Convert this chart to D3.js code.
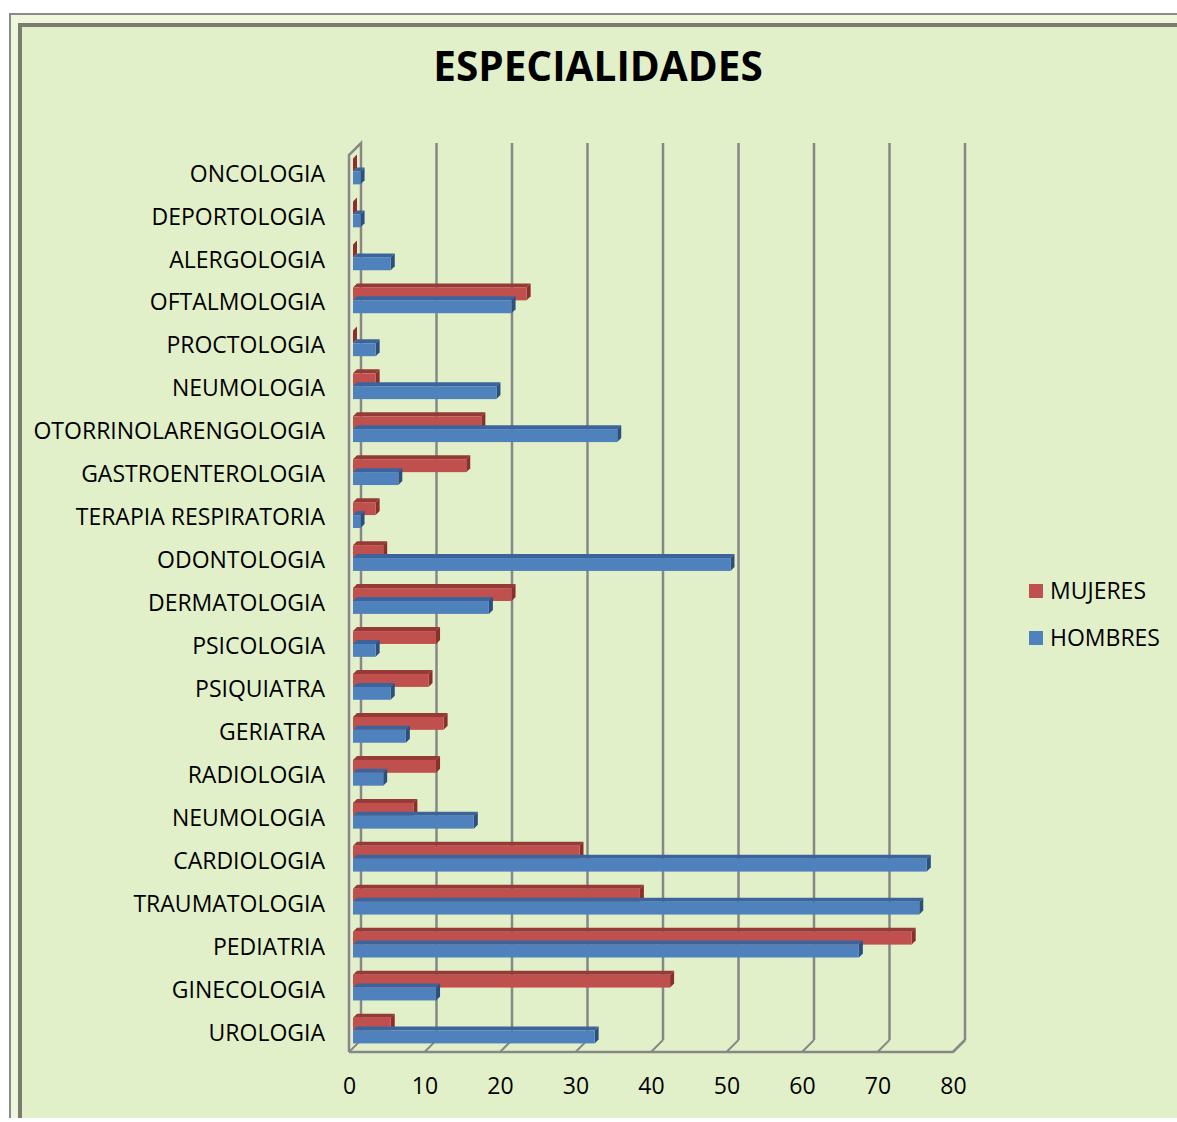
<!DOCTYPE html>
<html>
<head>
<meta charset="utf-8">
<script src="https://d3js.org/d3.v7.min.js"></script>
<style>
  body { margin: 0; background: #fff; }
  text { font-family: "Open Sans", "Noto Sans", sans-serif; fill: #000; }
</style>
</head>
<body>
<script>
// categories, top to bottom as drawn
var categories = ["ONCOLOGIA", "DEPORTOLOGIA", "ALERGOLOGIA", "OFTALMOLOGIA", "PROCTOLOGIA",
  "NEUMOLOGIA", "OTORRINOLARENGOLOGIA", "GASTROENTEROLOGIA", "TERAPIA RESPIRATORIA",
  "ODONTOLOGIA", "DERMATOLOGIA", "PSICOLOGIA", "PSIQUIATRA", "GERIATRA", "RADIOLOGIA",
  "NEUMOLOGIA", "CARDIOLOGIA", "TRAUMATOLOGIA", "PEDIATRIA", "GINECOLOGIA", "UROLOGIA"];

var mujeres = [0, 0, 0, 23, 0, 3, 17, 15, 3, 4, 21, 11, 10, 12, 11, 8, 30, 38, 74, 42, 5];
var hombres = [1, 1, 5, 21, 3, 19, 35, 6, 1, 50, 18, 3, 5, 7, 4, 16, 76, 75, 67, 11, 32];

var xTicks = [0, 10, 20, 30, 40, 50, 60, 70, 80];
var seriesNames = ["MUJERES", "HOMBRES"];

var W = 1177, H = 1122;

var svg = d3.select("body").append("svg")
    .attr("width", W)
    .attr("height", H);

// frame (open at the right and bottom, as cropped)
svg.append("rect").attr("x", 10).attr("y", 14).attr("width", W).attr("height", 1104)
    .attr("fill", "#eef6dc");
svg.append("path").attr("d", "M10,1118V14H" + W)
    .attr("fill", "none").attr("stroke", "#8a8a8a").attr("stroke-width", 2);
svg.append("rect").attr("x", 19).attr("y", 24).attr("width", W).attr("height", 1094)
    .attr("fill", "#e2f0ca");
svg.append("path").attr("d", "M20,1118V25H" + W)
    .attr("fill", "none").attr("stroke", "#7a7d6e").attr("stroke-width", 4);

// title
svg.append("text")
    .attr("x", 598).attr("y", 81)
    .attr("text-anchor", "middle")
    .style("font-size", "40.5px").style("font-weight", "bold")
    .text("ESPECIALIDADES");

// scales: bar plane, front floor, back wall
var x = d3.scaleLinear().domain([0, 80]).range([353, 957]);
var depth = 12;           // offset front floor -> back wall
var floorY = 1052, backTop = 143;
var xFront = function(v) { return x(v) - 4; };
var xBack = function(v) { return x(v) - 4 + depth; };

var y = d3.scaleBand()
    .domain(d3.range(categories.length))
    .range([150, 1052])
    .paddingInner(0.4)
    .paddingOuter(0.2);

var grid = svg.append("g");

// back wall gridlines with floor diagonals
xTicks.forEach(function(t) {
  if (t > 0) {
    grid.append("line")
        .attr("x1", xBack(t)).attr("x2", xBack(t))
        .attr("y1", backTop).attr("y2", floorY - depth)
        .attr("stroke", "#878787").attr("stroke-width", 2.5);
  }
  grid.append("line")
      .attr("x1", xBack(t)).attr("x2", xFront(t))
      .attr("y1", floorY - depth).attr("y2", floorY)
      .attr("stroke", "#878787").attr("stroke-width", 2);
});

// left side wall
grid.append("path")
    .attr("d", "M" + xFront(0) + "," + floorY +
               "L" + xFront(0) + "," + (backTop + depth) +
               "L" + xBack(0) + "," + backTop +
               "L" + xBack(0) + "," + (floorY - depth))
    .attr("fill", "none").attr("stroke", "#878787").attr("stroke-width", 2.5);

// floor front edge and right edge
grid.append("path")
    .attr("d", "M" + xFront(0) + "," + floorY + "L" + xFront(80) + "," + floorY +
               "L" + xBack(80) + "," + (floorY - depth))
    .attr("fill", "none").attr("stroke", "#878787").attr("stroke-width", 2.5);

// bars (3D look: front, top and end faces)
var barH = y.bandwidth() / 2;
var d3x = 4, d3y = 4;

var series = [
  {name: "MUJERES", values: mujeres, front: "#c0504d", top: "#963a37", side: "#8a2f2c", off: 0},
  {name: "HOMBRES", values: hombres, front: "#4f81bd", top: "#3b649c", side: "#2c4f7e", off: 1}
];

var bars = svg.append("g");
series.forEach(function(s) {
  var g = bars.append("g");
  var data = s.values.map(function(v, i) { return {v: v, i: i}; });

  // top face
  g.selectAll(".top").data(data).enter().append("path")
      .attr("fill", s.top)
      .attr("d", function(d) {
        var y0 = y(d.i) + s.off * barH, x0 = x(0), x1 = x(d.v);
        return "M" + x0 + "," + y0 + "L" + (x0 + d3x) + "," + (y0 - d3y) +
               "L" + (x1 + d3x) + "," + (y0 - d3y) + "L" + x1 + "," + y0 + "Z";
      });
  // end face
  g.selectAll(".side").data(data).enter().append("path")
      .attr("fill", s.side)
      .attr("d", function(d) {
        var y0 = y(d.i) + s.off * barH, x1 = x(d.v);
        return "M" + x1 + "," + y0 + "L" + (x1 + d3x) + "," + (y0 - d3y) +
               "L" + (x1 + d3x) + "," + (y0 + barH - d3y) + "L" + x1 + "," + (y0 + barH) + "Z";
      });
  // front face
  g.selectAll(".front").data(data).enter().append("rect")
      .attr("fill", s.front)
      .attr("x", x(0))
      .attr("y", function(d) { return y(d.i) + s.off * barH; })
      .attr("width", function(d) { return x(d.v) - x(0); })
      .attr("height", barH);
});

// category axis
var yAxis = svg.append("g")
    .attr("transform", "translate(" + xFront(0) + ",0)")
    .call(d3.axisLeft(y).tickSize(0).tickPadding(24)
      .tickFormat(function(i) { return categories[i]; }));
yAxis.select(".domain").remove();
yAxis.selectAll("text")
    .attr("dy", "0.44em")
    .style("font-family", "'Open Sans', sans-serif")
    .style("font-size", "23px")
    .attr("fill", "#000");

// value axis
var xAxis = svg.append("g")
    .attr("transform", "translate(-4," + (floorY + 26) + ")")
    .call(d3.axisBottom(x).tickValues(xTicks).tickSize(0).tickPadding(0));
xAxis.select(".domain").remove();
xAxis.selectAll("text")
    .style("font-family", "'Open Sans', sans-serif")
    .style("font-size", "23px")
    .attr("fill", "#000");

// legend
var legend = svg.append("g");
series.forEach(function(s, k) {
  var ly = 591 + k * 47;
  legend.append("rect")
      .attr("x", 1029).attr("y", ly - 7).attr("width", 14).attr("height", 14)
      .attr("fill", s.front);
  legend.append("text")
      .attr("x", 1050).attr("y", ly).attr("dy", "0.36em")
      .style("font-size", "23px")
      .text(s.name);
});
</script>
</body>
</html>
